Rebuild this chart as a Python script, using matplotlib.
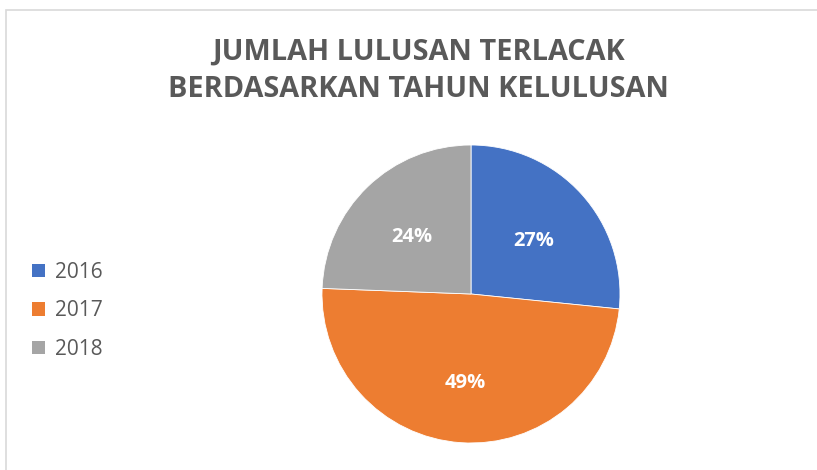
import matplotlib
matplotlib.use("Agg")
import matplotlib.pyplot as plt
from matplotlib.patches import Rectangle
from matplotlib.transforms import offset_copy

# Data
years = ["2016", "2017", "2018"]
shares = [26.6, 49.0, 24.4]   # percent of graduates traced, by year
colors = ["#4472C4", "#ED7D31", "#A5A5A5"]
title = "JUMLAH LULUSAN TERLACAK\nBERDASARKAN TAHUN KELULUSAN"

W, H = 817, 470
fig = plt.figure(figsize=(W / 100, H / 100), dpi=100)
fig.patch.set_facecolor("white")

# chart border
fig.add_artist(Rectangle((6 / W, -0.1), 1.2, (H - 10) / H + 0.1,
                         transform=fig.transFigure, fill=False,
                         edgecolor="#d9d9d9", linewidth=1.2))

cx, cy, r = 471, 294, 149
ax = fig.add_axes([(cx - r) / W, (H - cy - r) / H, 2 * r / W, 2 * r / H])
wedges, texts, autotexts = ax.pie(
    shares, colors=colors, startangle=90, counterclock=False, radius=1,
    autopct="%.0f%%", pctdistance=0.57,
    wedgeprops=dict(edgecolor="white", linewidth=0.6),
    textprops=dict(color="white", fontsize=14.5, fontweight="bold",
                   family="Open Sans"))
ax.set_xlim(-1, 1)
ax.set_ylim(-1, 1)
ax.set_aspect("equal")
ax.axis("off")

lab_tr = offset_copy(ax.transData, fig=fig, x=0, y=-3, units="points")
for t in autotexts:
    t.set_transform(lab_tr)

fig.text(418 / W, 1 - 71 / H, title, ha="center", va="center",
         fontsize=20.8, fontweight="bold", color="#595959", family="Open Sans",
         linespacing=1.36)

leg = fig.legend(wedges, years, loc="upper left",
                 bbox_to_anchor=(32 / W, 1 - 262 / H), frameon=False,
                 prop=dict(family="Open Sans", size=15), handlelength=0.62,
                 handleheight=0.62, handletextpad=0.5, labelspacing=0.83,
                 borderpad=0, borderaxespad=0)
for t in leg.get_texts():
    t.set_color("#595959")
for h in leg.legend_handles:
    h.set_edgecolor("none")

fig.savefig("out.png", dpi=100)
